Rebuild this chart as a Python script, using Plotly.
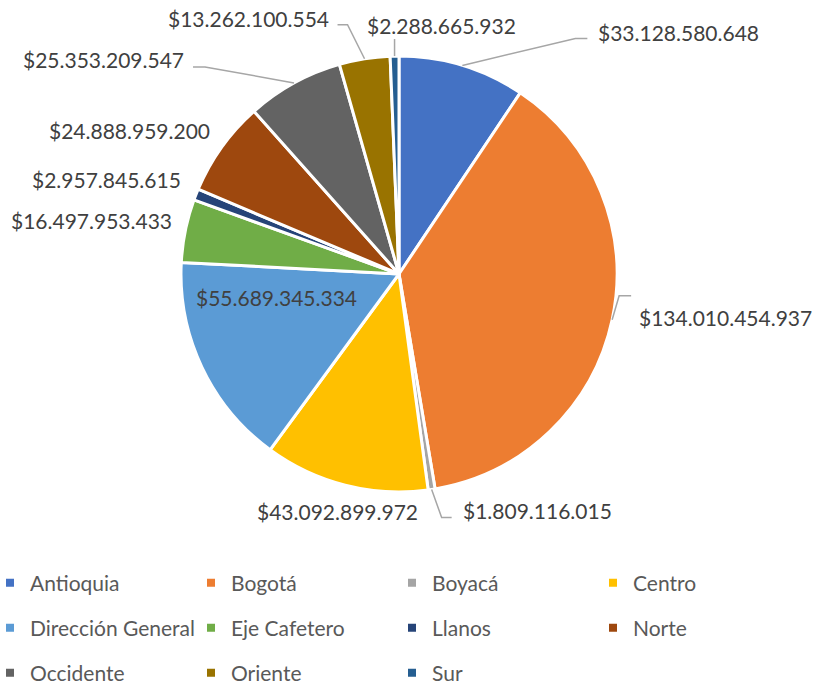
import math
import plotly.graph_objects as go

# Regional budget distribution
regions = ["Antioquia", "Bogotá", "Boyacá", "Centro", "Dirección General",
           "Eje Cafetero", "Llanos", "Norte", "Occidente", "Oriente", "Sur"]
amounts = [33128580648, 134010454937, 1809116015, 43092899972, 55689345334,
           16497953433, 2957845615, 24888959200, 25353209547, 13262100554,
           2288665932]
colors = ["#4472C4", "#ED7D31", "#A5A5A5", "#FFC000", "#5B9BD5", "#70AD47",
          "#264478", "#9E480E", "#636363", "#997300", "#255E91"]
legend_rows = [["Antioquia", "Bogotá", "Boyacá", "Centro"],
               ["Dirección General", "Eje Cafetero", "Llanos", "Norte"],
               ["Occidente", "Oriente", "Sur"]]

W, H = 815, 688
CX, CY, R = 399, 274, 218          # pie centre and radius in pixels
FONT = "Lato"

# label placement relative to the slice's outer edge midpoint (px), anchor,
# and optional leader line: (end offset from label anchor, elbow length)
label_style = {
    "Antioquia":         dict(dx=134, dy=-33, anchor="left",   leader=((-9, 6), -12)),
    "Bogotá":            dict(dx=25,  dy=-2,  anchor="left",   leader=((-6, -22), -12)),
    "Boyacá":            dict(dx=29,  dy=21,  anchor="left",   leader=((-9, 7), -10)),
    "Centro":            dict(dx=-8,  dy=26,  anchor="center", leader=None),
    "Dirección General": dict(dx=75,  dy=-70, anchor="center", leader=None),
    "Eje Cafetero":      dict(dx=-11, dy=-10, anchor="right",  leader=None),
    "Llanos":            dict(dx=-13, dy=-15, anchor="right",  leader=None),
    "Norte":             dict(dx=-10, dy=-17, anchor="right",  leader=None),
    "Occidente":         dict(dx=-108, dy=-23, anchor="right", leader=((7, 7), 12)),
    "Oriente":           dict(dx=-34, dy=-40, anchor="right",  leader=((7, 6), 10)),
    "Sur":               dict(dx=47,  dy=-31, anchor="center", leader=((-47, 14), 0)),
}


def px_to_paper(x, y):
    return x / W, 1 - y / H


def money(v):
    return "$" + f"{v:,}".replace(",", ".")


fig = go.Figure()

fig.add_trace(go.Pie(
    labels=regions, values=amounts, sort=False, direction="clockwise",
    rotation=0, marker=dict(colors=colors, line=dict(color="white", width=3)),
    textinfo="none", hoverinfo="label+value", showlegend=False,
    domain=dict(x=[(CX - R) / W, (CX + R) / W],
                y=[1 - (CY + R) / H, 1 - (CY - R) / H]),
))

# data labels with leader lines
total = sum(amounts)
cum = 0
annotations, shapes = [], []
for name, val in zip(regions, amounts):
    mid = (cum + val / 2) / total * 2 * math.pi
    cum += val
    ex = CX + R * math.sin(mid)
    ey = CY - R * math.cos(mid)
    st = label_style[name]
    lx, ly = ex + st["dx"], ey + st["dy"]
    ax, ay = px_to_paper(lx, ly)
    annotations.append(dict(
        x=ax, y=ay, xref="paper", yref="paper", text=money(val),
        showarrow=False, xanchor=st["anchor"], yanchor="middle",
        font=dict(family=FONT, size=21, color="#404040"),
    ))
    if st["leader"]:
        (ox, oy), elbow = st["leader"]
        endx, endy = lx + ox, ly + oy
        pts = [(ex, ey), (endx + elbow, endy), (endx, endy)]
        path = "M " + " L ".join(
            f"{px_to_paper(x, y)[0]:.5f},{px_to_paper(x, y)[1]:.5f}" for x, y in pts)
        shapes.append(dict(type="path", path=path, xref="paper", yref="paper",
                           line=dict(color="#A6A6A6", width=1.5)))

# legend: one horizontal legend per row
color_of = dict(zip(regions, colors))
legend_names = ["legend", "legend2", "legend3"]
row_y = [583, 628, 673]
legend_layout = {}
for i, row in enumerate(legend_rows):
    for name in row:
        fig.add_trace(go.Scatter(
            x=[None], y=[None], mode="markers", name=name,
            marker=dict(symbol="square", size=8, color=color_of[name]),
            legend=legend_names[i], hoverinfo="skip",
        ))
    legend_layout[legend_names[i]] = dict(
        orientation="h", x=0, xanchor="left",
        y=1 - row_y[i] / H, yanchor="middle",
        entrywidth=166, entrywidthmode="pixels", itemwidth=30,
        indentation=-10,
        font=dict(family=FONT, size=21, color="#595959"),
        bgcolor="rgba(0,0,0,0)", traceorder="normal",
    )

fig.update_layout(
    width=W, height=H,
    margin=dict(l=0, r=0, t=0, b=0, autoexpand=False),
    paper_bgcolor="white", plot_bgcolor="white",
    xaxis=dict(visible=False), yaxis=dict(visible=False),
    annotations=annotations, shapes=shapes,
    **legend_layout,
)

fig.write_html("out.html")
